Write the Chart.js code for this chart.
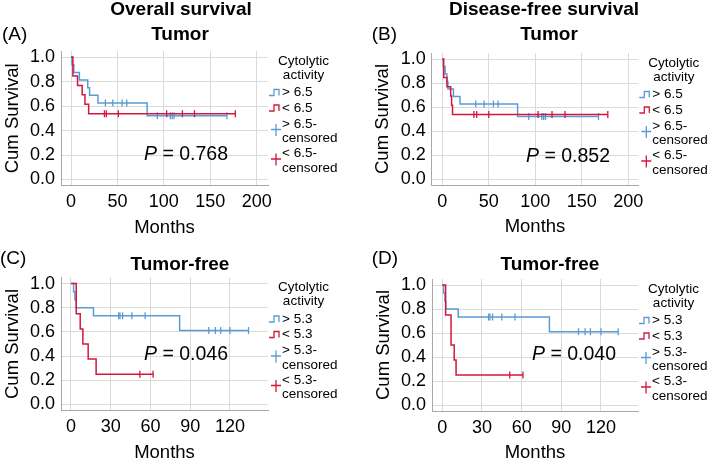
<!DOCTYPE html>
<html lang="en">
<head>
<meta charset="UTF-8" />
<script src="https://cdn.jsdelivr.net/npm/chart.js@4.4.0/dist/chart.umd.min.js"></script>
<style>
  html, body { margin: 0; padding: 0; background: #fff; overflow: hidden; }
  body { width: 709px; height: 460px; position: relative; }
  canvas { position: absolute; }
</style>
<title>Cytolytic activity survival</title>
</head>
<body>
<canvas id="panelA" width="355" height="245" style="left:0;top:0"></canvas>
<canvas id="panelB" width="354" height="245" style="left:355px;top:0"></canvas>
<canvas id="panelC" width="355" height="245" style="left:0;top:225px"></canvas>
<canvas id="panelD" width="354" height="245" style="left:355px;top:225px"></canvas>
<script>
// tick labels
const yTicks = [0, 0.2, 0.4, 0.6, 0.8, 1.0];
const xTicksLong = [0, 50, 100, 150, 200];
const xTicksShort = [0, 30, 60, 90, 120];

// (A) overall survival, tumor: event months / survival / censored months
const osHiT = [0, 1, 3, 9, 18, 20, 29, 82];
const osHiS = [1, 0.938, 0.875, 0.813, 0.75, 0.688, 0.625, 0.521];
const osHiC = [37, 45, 55, 60, 93, 107, 109, 111, 168];
const osLoT = [0, 2, 7, 12, 15, 19];
const osLoS = [1, 0.846, 0.769, 0.692, 0.615, 0.538];
const osLoC = [36, 38, 51, 103, 120, 133, 177];

// (B) disease-free survival, tumor
const dfsHiT = [0, 1, 3, 5, 6, 12, 19, 81];
const dfsHiS = [1, 0.938, 0.875, 0.813, 0.75, 0.688, 0.625, 0.521];
const dfsHiC = [36, 45, 55, 60, 93, 107, 109, 111, 168];
const dfsLoT = [0, 1.5, 5, 9, 10, 11];
const dfsLoS = [1, 0.846, 0.769, 0.692, 0.615, 0.538];
const dfsLoC = [34, 37, 50, 103, 118, 132, 178];

// (C) overall survival, tumor-free
const osFreeHiT = [0, 2, 3, 4, 17, 82];
const osFreeHiS = [1, 0.933, 0.867, 0.8, 0.733, 0.611];
const osFreeHiC = [36, 37, 39, 46, 56, 104, 109, 113, 120, 134];
const osFreeLoT = [0, 4, 7, 9, 13, 19];
const osFreeLoS = [1, 0.75, 0.625, 0.5, 0.375, 0.25];
const osFreeLoC = [52, 62];

// (D) disease-free survival, tumor-free
const dfsFreeHiT = [0, 1, 2, 2.6, 12, 81];
const dfsFreeHiS = [1, 0.933, 0.867, 0.8, 0.733, 0.611];
const dfsFreeHiC = [35, 36, 38, 45, 55, 103, 108, 112, 120, 133];
const dfsFreeLoT = [0, 2.5, 6.6, 9, 10.4];
const dfsFreeLoS = [1, 0.75, 0.5, 0.375, 0.25];
const dfsFreeLoC = [51, 61];

const pValues = ["0.768", "0.852", "0.046", "0.040"];
const cutoffs = ["6.5", "6.5", "5.3", "5.3"];

const FONT = '"Liberation Sans", Arial, sans-serif';
const BLUE = "#5b9bd5";
const RED = "#d3173f";
Chart.defaults.font.family = FONT;
Chart.defaults.color = "#000";

function survAt(times, surv, t) {
  let s = surv[0];
  for (let i = 0; i < times.length; i++) if (times[i] <= t) s = surv[i];
  return s;
}

function stepPoints(times, surv, cens) {
  const pts = times.map((t, i) => ({ x: t, y: surv[i] }));
  const last = cens[cens.length - 1];
  if (last > times[times.length - 1]) pts.push({ x: last, y: surv[surv.length - 1] });
  return pts;
}

function censPoints(times, surv, cens) {
  return cens.map((c) => ({ x: c, y: survAt(times, surv, c) }));
}

// titles, P value and SPSS style legend
const kmExtras = {
  id: "kmExtras",
  afterDraw(chart, args, o) {
    const ctx = chart.ctx;
    const a = chart.chartArea;
    ctx.save();
    ctx.fillStyle = "#000";
    ctx.textBaseline = "middle";
    ctx.textAlign = "center";
    ctx.font = "bold 19px " + FONT;
    if (o.heading) ctx.fillText(o.heading, o.headingPos[0], o.headingPos[1]);
    ctx.fillText(o.sub, o.subPos[0], o.subPos[1]);
    ctx.textAlign = "left";
    ctx.font = "19px " + FONT;
    ctx.fillText(o.letter, o.letterPos[0], o.letterPos[1]);

    ctx.font = "italic 19.5px " + FONT;
    ctx.fillText("P", o.pPos[0], o.pPos[1]);
    const pw = ctx.measureText("P").width;
    ctx.font = "19.5px " + FONT;
    ctx.fillText(" = " + o.p, o.pPos[0] + pw, o.pPos[1]);

    // legend
    const ix = a.right + 1, tx = a.right + 14, cx = a.right + 35.5, t = a.top;
    ctx.font = "13.5px " + FONT;
    ctx.textAlign = "center";
    ctx.fillText("Cytolytic", cx, t + 10);
    ctx.fillText("activity", cx, t + 24);
    ctx.textAlign = "left";
    ctx.lineWidth = 1.3;
    [[BLUE, "> ", 41.5], [RED, "< ", 57]].forEach(([col, sign, dy]) => {
      const y = t + dy;
      ctx.strokeStyle = col;
      ctx.beginPath();
      ctx.moveTo(ix, y + 3);
      ctx.lineTo(ix + 5, y + 3);
      ctx.lineTo(ix + 5, y - 3);
      ctx.lineTo(ix + 10, y - 3);
      ctx.lineTo(ix + 10, y + 3);
      ctx.stroke();
      ctx.fillText(sign + o.cut, tx, y);
    });
    [[BLUE, "> ", 73], [RED, "< ", 102.5]].forEach(([col, sign, dy]) => {
      const y = t + dy;
      ctx.strokeStyle = col;
      ctx.beginPath();
      ctx.moveTo(ix + 7, y);
      ctx.lineTo(ix + 7, y + 12);
      ctx.moveTo(ix + 2, y + 5.5);
      ctx.lineTo(ix + 12, y + 5.5);
      ctx.stroke();
      ctx.fillText(sign + o.cut + "-", tx, y);
      ctx.fillText("censored", tx, y + 14.5);
    });
    ctx.restore();
  },
};

const panels = [
  {
    id: "panelA", w: 355, h: 245, area: { left: 61, right: 268, top: 51, bottom: 185.6 },
    xRange: [-10.8, 212.2], xTicks: xTicksLong,
    hi: [osHiT, osHiS, osHiC], lo: [osLoT, osLoS, osLoC],
    extras: { heading: "Overall survival", headingPos: [181, 10], sub: "Tumor", subPos: [180, 35],
      letter: "(A)", letterPos: [2, 35], p: pValues[0], pPos: [144, 155], cut: cutoffs[0] },
  },
  {
    id: "panelB", w: 354, h: 245, area: { left: 76.7, right: 283.3, top: 53, bottom: 185 },
    xRange: [-11.4, 210.8], xTicks: xTicksLong,
    hi: [dfsHiT, dfsHiS, dfsHiC], lo: [dfsLoT, dfsLoS, dfsLoC],
    extras: { heading: "Disease-free survival", headingPos: [189, 10], sub: "Tumor", subPos: [194, 35],
      letter: "(B)", letterPos: [16.7, 35], p: pValues[1], pPos: [171, 157], cut: cutoffs[1] },
  },
  {
    id: "panelC", w: 355, h: 245, area: { left: 61, right: 268, top: 52.5, bottom: 185.5 },
    xRange: [-7.5, 148.7], xTicks: xTicksShort,
    hi: [osFreeHiT, osFreeHiS, osFreeHiC], lo: [osFreeLoT, osFreeLoS, osFreeLoC],
    extras: { heading: "", headingPos: [0, 0], sub: "Tumor-free", subPos: [180, 40],
      letter: "(C)", letterPos: [0, 34], p: pValues[2], pPos: [144, 130], cut: cutoffs[2] },
  },
  {
    id: "panelD", w: 354, h: 245, area: { left: 77, right: 283, top: 54, bottom: 186 },
    xRange: [-7.8, 148], xTicks: xTicksShort,
    hi: [dfsFreeHiT, dfsFreeHiS, dfsFreeHiC], lo: [dfsFreeLoT, dfsFreeLoS, dfsFreeLoC],
    extras: { heading: "", headingPos: [0, 0], sub: "Tumor-free", subPos: [195, 40],
      letter: "(D)", letterPos: [16.7, 34], p: pValues[3], pPos: [177, 130], cut: cutoffs[3] },
  },
];

const Y_AXIS_W = 61;
const X_AXIS_H = 55;

panels.forEach((p) => {
  const stepDs = (d, col) => ({
    data: stepPoints(d[0], d[1], d[2]),
    stepped: "before",
    borderColor: col,
    borderWidth: 1.5,
    pointRadius: 0,
    fill: false,
  });
  const censDs = (d, col) => ({
    data: censPoints(d[0], d[1], d[2]),
    showLine: false,
    borderColor: col,
    pointStyle: "line",
    pointRotation: 90,
    pointRadius: 3.5,
    pointBorderWidth: 1.3,
    pointBorderColor: col,
  });

  new Chart(document.getElementById(p.id), {
    type: "line",
    data: {
      datasets: [
        censDs(p.lo, RED),
        stepDs(p.lo, RED),
        censDs(p.hi, BLUE),
        stepDs(p.hi, BLUE),
      ],
    },
    options: {
      responsive: false,
      animation: false,
      events: [],
      layout: {
        padding: {
          left: p.area.left - Y_AXIS_W,
          top: p.area.top,
          right: p.w - p.area.right,
          bottom: p.h - p.area.bottom - X_AXIS_H,
        },
      },
      scales: {
        x: {
          type: "linear",
          min: p.xRange[0],
          max: p.xRange[1],
          afterBuildTicks: (s) => { s.ticks = p.xTicks.map((v) => ({ value: v })); },
          afterFit: (s) => { s.height = X_AXIS_H; },
          ticks: { padding: 6, font: { size: 18 }, color: "#000", maxRotation: 0 },
          grid: { color: "#dadada", drawTicks: false },
          border: { color: "#a8a8a8" },
          title: { display: true, text: "Months", font: { size: 18.5 }, color: "#000", padding: { top: 0, bottom: 1.7 } },
        },
        y: {
          min: -0.05,
          max: 1.05,
          afterBuildTicks: (s) => { s.ticks = yTicks.map((v) => ({ value: v })); },
          afterFit: (s) => { s.width = Y_AXIS_W; },
          ticks: { padding: 6, font: { size: 18 }, color: "#000", callback: (v) => v.toFixed(1) },
          grid: { color: "#dadada", drawTicks: false },
          border: { color: "#a8a8a8" },
          title: { display: true, text: "Cum Survival", font: { size: 18.5 }, color: "#000", padding: { top: 1.4, bottom: 0 } },
        },
      },
      plugins: {
        legend: { display: false },
        tooltip: { enabled: false },
        kmExtras: p.extras,
      },
    },
    plugins: [kmExtras],
  });
});
</script>
</body>
</html>
